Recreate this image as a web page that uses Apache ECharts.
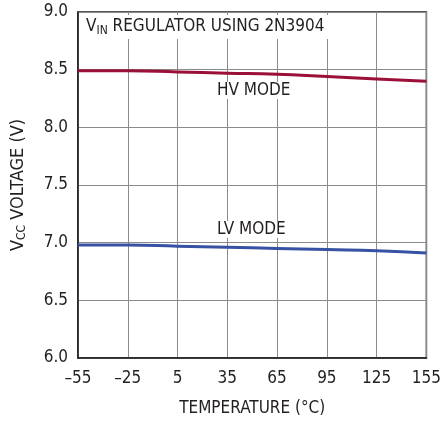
<!DOCTYPE html>
<html>
<head>
<meta charset="utf-8">
<script src="https://cdn.jsdelivr.net/npm/echarts@6/dist/echarts.min.js"></script>
<style>
  html, body { margin: 0; padding: 0; background: #fff; }
  #chart { width: 444px; height: 425px; }
</style>
</head>
<body>
<div id="chart"></div>
<script>
// temperature points (°C)
const temps = [-55, -25, 5, 35, 65, 95, 125, 155]
// Vcc in HV mode
const hvMode = [8.49, 8.49, 8.48, 8.47, 8.46, 8.44, 8.42, 8.40]
// Vcc in LV mode
const lvMode = [6.98, 6.98, 6.97, 6.96, 6.95, 6.94, 6.93, 6.91]

const font = '"DejaVu Sans Condensed", "Liberation Sans Narrow", sans-serif'
const textColor = '#231f20'

var myChart = echarts.init(document.getElementById('chart'))

var option = {
    animation: false,
    textStyle: { fontFamily: font },
    grid: {
        left: 78, right: 12, top: 12, bottom: 67,
        show: true,
        borderColor: '#231f20',
        borderWidth: 1.5
    },
    xAxis: {
        type: 'value',
        min: -55, max: 155, interval: 30,
        name: 'TEMPERATURE (°C)',
        nameLocation: 'middle',
        nameGap: 42,
        nameTextStyle: { fontSize: 17, color: textColor, fontFamily: font },
        axisLine: { onZero: false, lineStyle: { color: '#231f20', width: 1.5 } },
        axisTick: { show: false },
        axisLabel: {
            fontSize: 17, color: textColor, fontFamily: font, margin: 12,
            formatter: v => v < 0 ? '\u2013' + Math.abs(v) : '' + v
        },
        splitLine: { lineStyle: { color: '#8a8a8a', width: 1 } }
    },
    yAxis: {
        type: 'value',
        min: 6, max: 9, interval: 0.5,
        name: '{n|V}{s|CC}{n| VOLTAGE (V)}',
        nameLocation: 'middle',
        nameGap: 50,
        nameTextStyle: {
            rich: {
                n: { fontSize: 18, color: textColor, fontFamily: font },
                s: { fontSize: 12, color: textColor, fontFamily: font, verticalAlign: 'bottom', padding: [7, 0, 0, 0] }
            }
        },
        axisLine: { onZero: false, lineStyle: { color: '#231f20', width: 1.5 } },
        axisTick: { show: false },
        axisLabel: {
            fontSize: 17, color: textColor, fontFamily: font, margin: 10,
            formatter: v => v.toFixed(1)
        },
        splitLine: { lineStyle: { color: '#8a8a8a', width: 1 } }
    },
    series: [
        {
            name: 'HV MODE',
            type: 'line',
            data: temps.map((t, i) => [t, hvMode[i]]),
            showSymbol: false,
            smooth: true,
            lineStyle: { color: '#9b1038', width: 3 },
            z: 5
        },
        {
            name: 'LV MODE',
            type: 'line',
            data: temps.map((t, i) => [t, lvMode[i]]),
            showSymbol: false,
            smooth: true,
            lineStyle: { color: '#3752a3', width: 3 },
            z: 5
        }
    ],
    graphic: [
        {
            type: 'text', left: 84, top: 15, z: 10,
            style: {
                text: '{n|V}{s|IN}{n| REGULATOR USING 2N3904}',
                backgroundColor: '#fff',
                padding: [2, 4, 2, 2],
                rich: {
                    n: { fontSize: 17, fill: textColor, fontFamily: font },
                    s: { fontSize: 12, fill: textColor, fontFamily: font, padding: [8, 0, 0, 0] }
                }
            }
        },
        {
            type: 'text', left: 214, top: 82, z: 10,
            style: { text: 'HV MODE', fontSize: 17, fill: textColor, fontFamily: font, backgroundColor: '#fff', padding: [0, 3] }
        },
        {
            type: 'text', left: 214, top: 221, z: 10,
            style: { text: 'LV MODE', fontSize: 17, fill: textColor, fontFamily: font, backgroundColor: '#fff', padding: [0, 3] }
        }
    ]
}

myChart.setOption(option)
</script>
</body>
</html>
